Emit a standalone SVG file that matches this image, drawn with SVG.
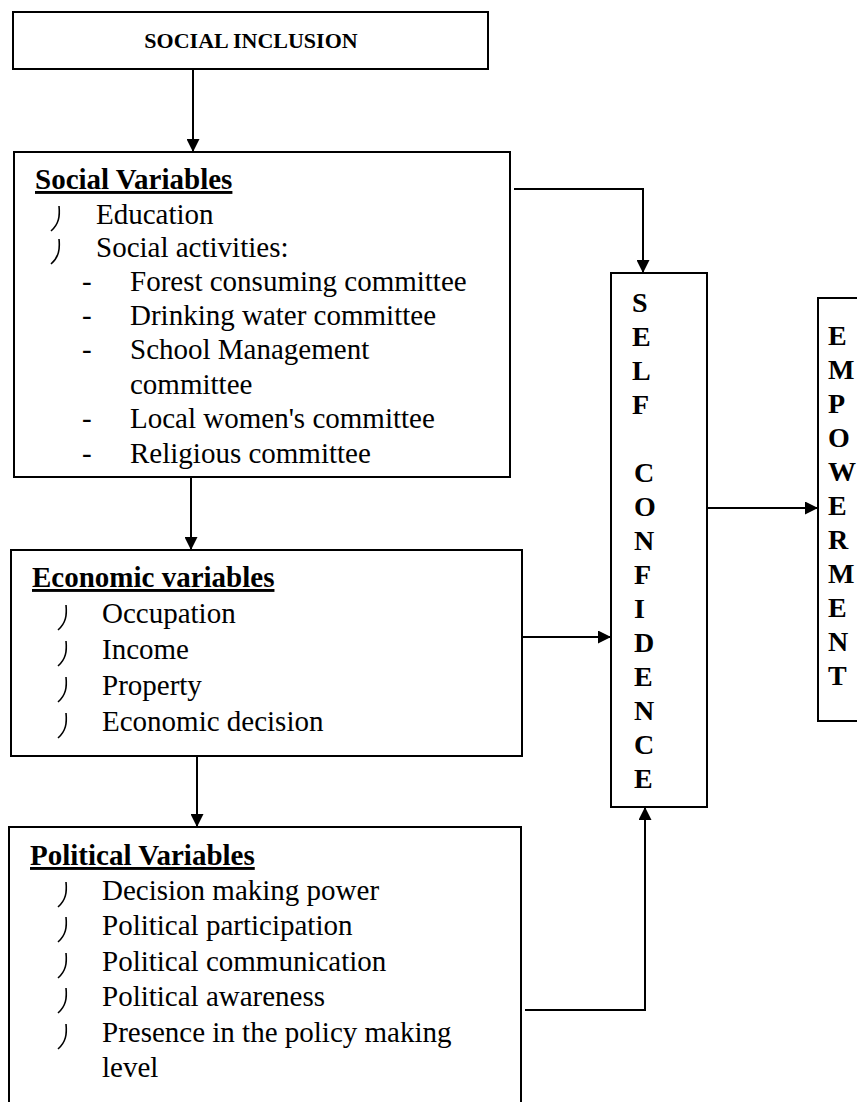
<svg xmlns="http://www.w3.org/2000/svg" width="857" height="1102" viewBox="0 0 857 1102">
<defs>
<style>
.box{fill:#fff;stroke:#000;stroke-width:2}
.t{font-family:"Liberation Serif","Times New Roman",serif;font-size:29px;fill:#000}
.h{font-family:"Liberation Serif","Times New Roman",serif;font-size:29px;font-weight:bold;text-decoration:underline;fill:#000}
.v{font-family:"Liberation Serif","Times New Roman",serif;font-size:28px;font-weight:bold;fill:#000}
.title{font-family:"Liberation Serif","Times New Roman",serif;font-size:22px;font-weight:bold;fill:#000}
.c{fill:none;stroke:#000;stroke-width:2}
.b{fill:none;stroke:#000;stroke-width:1.6}
</style>
<marker id="ah" viewBox="0 0 10 10" refX="10" refY="5" markerWidth="14" markerHeight="13" markerUnits="userSpaceOnUse" orient="auto">
<path d="M0,0 L10,5 L0,10 z" fill="#000"/>
</marker>
</defs>
<rect width="857" height="1102" fill="#fff"/>
<g id="social-inclusion">
<rect class="box" x="13" y="12" width="475" height="57"/>
<text class="title" x="251" y="48" text-anchor="middle">SOCIAL INCLUSION</text>
</g>
<g id="social-variables">
<rect class="box" x="14" y="152" width="496" height="325"/>
<text class="h" x="35" y="189">Social Variables</text>
<path class="b" d="M59,206 C60,216 59,224 51,231"/>
<text class="t" x="96" y="224">Education</text>
<path class="b" d="M59,239 C60,249 59,257 51,264"/>
<text class="t" x="96" y="257">Social activities:</text>
<text class="t" x="82" y="291">-</text><text class="t" x="130" y="291">Forest consuming committee</text>
<text class="t" x="82" y="325">-</text><text class="t" x="130" y="325">Drinking water committee</text>
<text class="t" x="82" y="359">-</text><text class="t" x="130" y="359">School Management</text>
<text class="t" x="130" y="394">committee</text>
<text class="t" x="82" y="428">-</text><text class="t" x="130" y="428">Local women's committee</text>
<text class="t" x="82" y="463">-</text><text class="t" x="130" y="463">Religious committee</text>
</g>
<g id="economic-variables">
<rect class="box" x="11" y="550" width="511" height="206"/>
<text class="h" x="32" y="587">Economic variables</text>
<path class="b" d="M66,605 C67,615 66,623 58,630"/>
<text class="t" x="102" y="623">Occupation</text>
<path class="b" d="M66,641 C67,651 66,659 58,666"/>
<text class="t" x="102" y="659">Income</text>
<path class="b" d="M66,677 C67,687 66,695 58,702"/>
<text class="t" x="102" y="695">Property</text>
<path class="b" d="M66,713 C67,723 66,731 58,738"/>
<text class="t" x="102" y="731">Economic decision</text>
</g>
<g id="political-variables">
<rect class="box" x="9" y="827" width="512" height="290"/>
<text class="h" x="30" y="865">Political Variables</text>
<path class="b" d="M66,882 C67,892 66,900 58,907"/>
<text class="t" x="102" y="900">Decision making power</text>
<path class="b" d="M66,917 C67,927 66,935 58,942"/>
<text class="t" x="102" y="935">Political participation</text>
<path class="b" d="M66,953 C67,963 66,971 58,978"/>
<text class="t" x="102" y="971">Political communication</text>
<path class="b" d="M66,988 C67,998 66,1006 58,1013"/>
<text class="t" x="102" y="1006">Political awareness</text>
<path class="b" d="M66,1024 C67,1034 66,1042 58,1049"/>
<text class="t" x="102" y="1042">Presence in the policy making</text>
<text class="t" x="102" y="1077">level</text>
</g>
<g id="self-confidence">
<rect class="box" x="611" y="273" width="96" height="534"/>
<g class="v">
<text x="632" y="312">S</text>
<text x="632" y="346">E</text>
<text x="632" y="380">L</text>
<text x="632" y="414">F</text>
<text x="634" y="482">C</text>
<text x="634" y="516">O</text>
<text x="634" y="550">N</text>
<text x="634" y="584">F</text>
<text x="634" y="618">I</text>
<text x="634" y="652">D</text>
<text x="634" y="686">E</text>
<text x="634" y="720">N</text>
<text x="634" y="754">C</text>
<text x="634" y="788">E</text>
</g>
</g>
<g id="empowerment">
<rect class="box" x="818" y="298" width="52" height="423"/>
<g class="v">
<text x="828" y="345">E</text>
<text x="828" y="379">M</text>
<text x="828" y="413">P</text>
<text x="828" y="447">O</text>
<text x="828" y="481">W</text>
<text x="828" y="515">E</text>
<text x="828" y="549">R</text>
<text x="828" y="583">M</text>
<text x="828" y="617">E</text>
<text x="828" y="651">N</text>
<text x="828" y="685">T</text>
</g>
</g>
<g id="connectors">
<path class="c" d="M193,69 V152" marker-end="url(#ah)"/>
<path class="c" d="M514,189 H643 V273" marker-end="url(#ah)"/>
<path class="c" d="M191,477 V550" marker-end="url(#ah)"/>
<path class="c" d="M522,637 H611" marker-end="url(#ah)"/>
<path class="c" d="M197,756 V827" marker-end="url(#ah)"/>
<path class="c" d="M525,1010 H645 V807" marker-end="url(#ah)"/>
<path class="c" d="M707,508 H818" marker-end="url(#ah)"/>
</g>
</svg>
